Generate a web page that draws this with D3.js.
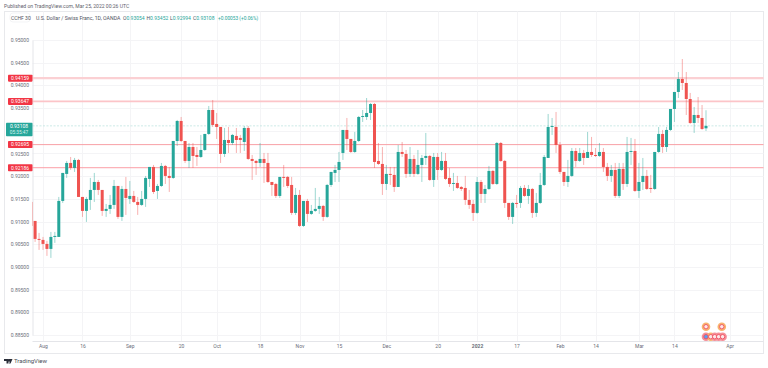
<!DOCTYPE html>
<html>
<head>
<meta charset="utf-8">
<script src="https://cdnjs.cloudflare.com/ajax/libs/d3/7.8.5/d3.min.js"></script>
<style>
  html, body { margin: 0; padding: 0; background: #fff; }
  svg { display: block; }
  text { font-family: Roboto, "Liberation Sans", sans-serif; }
</style>
</head>
<body>
<div id="chart"></div>
<script>
// bar number 0 is Aug 2 2021, the first bars sit before that and run off the axis
const firstBar = -3;

const opens = [
  .91432,.91013,.90617,.90595,.90507,.90397,.90661,.90661,.91454,.92049,
  .92291,.92181,.92357,.91542,.91234,.91476,.91696,.91872,.91696,.91234,
  .91278,.91366,.91784,.91102,.91718,.91498,.91564,.91432,.91366,.91498,
  .91939,.92203,.91674,.91784,.92225,.92005,.91961,.92775,.93216,.92775,
  .92335,.92643,.92467,.92423,.92577,.92930,.93458,.93150,.93084,.92489,
  .92797,.92731,.92886,.92842,.92753,.93062,.92379,.92335,.92291,.92379,
  .92291,.91872,.91828,.91564,.91983,.91983,.91806,.91190,.91586,.90903,
  .91454,.91168,.91234,.91278,.91344,.91102,.91806,.92071,.92137,.92511,
  .93018,.92820,.92533,.92775,.93304,.93304,.93392,.93590,.92335,.92269,
  .91828,.92049,.92027,.91762,.92533,.92489,.92049,.92379,.92049,.92247,
  .92401,.92445,.91916,.92423,.92137,.92335,.91961,.91828,.91850,.91762,
  .91740,.91476,.91388,.91190,.91872,.91608,.91718,.92115,.91828,.92731,
  .92335,.91410,.91102,.91410,.91410,.91740,.91564,.91718,.91190,.91410,
  .91806,.92401,.93084,.93084,.92687,.92093,.91872,.92005,.92555,.92335,
  .92511,.92401,.92533,.92467,.92445,.92533,.92203,.92005,.92137,.91564,
  .92159,.91828,.92533,.92555,.91674,.91872,.92005,.91740,.91718,.92533,
  .92930,.92643,.93018,.93480,.93855,.94141,.94053,.93700,.93172,.93348,
  .93282,.93054
];
const highs = [
  .91432,.91013,.90749,.90661,.90573,.90771,.90771,.91542,.92071,.92335,
  .92423,.92401,.92379,.91542,.91542,.91961,.92071,.91916,.91696,.91388,
  .91586,.91916,.91784,.91784,.91983,.91894,.91674,.91542,.91674,.92005,
  .92203,.92247,.91828,.92291,.92247,.92203,.92775,.93238,.93304,.92775,
  .92731,.92731,.92643,.92908,.92930,.93546,.93678,.93392,.93084,.93062,
  .93084,.92930,.93062,.92908,.93106,.93106,.92467,.92357,.92731,.92511,
  .92511,.91872,.91850,.91983,.92247,.92005,.91983,.91740,.91696,.91454,
  .91498,.91366,.91740,.91542,.91366,.91828,.92093,.92247,.92533,.93018,
  .93282,.92820,.92974,.93326,.93458,.93722,.93612,.93612,.92731,.92643,
  .92247,.92203,.92203,.92687,.92753,.92577,.92643,.92467,.92577,.92467,
  .92952,.92467,.92511,.92511,.92533,.92511,.92181,.92071,.92005,.91784,
  .92005,.91696,.91476,.91983,.91916,.91806,.92225,.92137,.92753,.92753,
  .92357,.91410,.91432,.91586,.91784,.91806,.91806,.91740,.91630,.92071,
  .92467,.93370,.93282,.93414,.92753,.92093,.92357,.92621,.92621,.92621,
  .92577,.92974,.92864,.92621,.92731,.92621,.92291,.92247,.92291,.92291,
  .92291,.92864,.92842,.92820,.92291,.92401,.92137,.92027,.92533,.93084,
  .93018,.93084,.93480,.93855,.94295,.94581,.94295,.93833,.93524,.93744,
  .93568,.93452
];
const lows = [
  .90903,.90551,.90375,.90375,.90243,.90199,.90529,.90661,.91410,.91961,
  .92137,.92093,.91542,.91102,.90991,.91256,.91432,.91586,.91124,.91102,
  .91168,.91278,.91058,.91013,.91146,.91388,.91410,.91146,.91344,.91322,
  .91762,.91608,.91498,.91762,.91828,.91652,.91939,.92665,.92753,.92291,
  .92181,.92181,.92225,.92401,.92555,.92908,.93084,.92820,.92291,.92423,
  .92511,.92687,.92511,.92511,.92555,.92357,.91916,.92027,.92203,.91850,
  .91850,.91564,.91520,.91520,.91762,.91740,.91146,.91146,.90881,.90881,
  .90991,.91146,.91212,.91168,.91013,.91080,.91762,.91872,.91872,.92357,
  .92577,.92511,.92511,.92753,.93194,.93238,.93238,.92181,.92247,.91586,
  .91696,.91806,.91652,.91762,.92423,.91961,.91983,.91983,.92027,.91872,
  .92247,.91894,.91762,.91916,.92115,.91916,.91762,.91674,.91718,.91674,
  .91366,.91278,.91013,.91168,.91410,.91410,.91696,.91806,.91806,.92313,
  .91300,.91035,.90947,.91300,.91300,.91542,.91388,.91080,.91102,.91388,
  .91784,.92401,.92908,.92511,.92049,.91784,.91762,.91983,.92203,.92313,
  .92247,.92401,.92423,.92423,.92423,.92093,.91894,.91872,.91520,.91520,
  .91696,.91762,.92247,.91652,.91520,.91696,.91696,.91630,.91696,.92511,
  .92511,.92533,.92996,.93194,.93722,.93899,.93348,.93150,.92952,.93172,
  .93018,.92994
];
const closes = [
  .90903,.90617,.90595,.90507,.90397,.90661,.90683,.91454,.92071,.92291,
  .92181,.92357,.91542,.91234,.91498,.91696,.91872,.91696,.91234,.91278,
  .91366,.91784,.91102,.91718,.91520,.91564,.91432,.91366,.91498,.91961,
  .92203,.91652,.91784,.92225,.92005,.91961,.92775,.93216,.92775,.92335,
  .92643,.92445,.92423,.92577,.92930,.93458,.93128,.93084,.92489,.92797,
  .92731,.92908,.92797,.92797,.93062,.92379,.92335,.92291,.92379,.92291,
  .91872,.91806,.91564,.91983,.91961,.91784,.91190,.91586,.90903,.91454,
  .91168,.91234,.91278,.91344,.91102,.91806,.92093,.92137,.92313,.93018,
  .92820,.92533,.92775,.93304,.93326,.93392,.93590,.92313,.92269,.91828,
  .92049,.92027,.91762,.92533,.92489,.92049,.92379,.92049,.92247,.92401,
  .92445,.91916,.92423,.92137,.92335,.91939,.91828,.91850,.91740,.91718,
  .91476,.91366,.91190,.91872,.91608,.91718,.92115,.91828,.92731,.92335,
  .91410,.91102,.91410,.91388,.91740,.91564,.91718,.91190,.91410,.91806,
  .92423,.93084,.93106,.92687,.92093,.91872,.92005,.92555,.92335,.92511,
  .92401,.92533,.92467,.92445,.92533,.92203,.92005,.92137,.91564,.92159,
  .91828,.92533,.92555,.91674,.91872,.92005,.91718,.91718,.92533,.92930,
  .92643,.93018,.93480,.93855,.94141,.94053,.93700,.93172,.93348,.93282,
  .93040,.93108
];

const priceTicks = [0.95, 0.945, 0.94, 0.935, 0.925, 0.92, 0.915, 0.91, 0.905, 0.9, 0.895, 0.89, 0.885];
const priceGrid = [0.95, 0.945, 0.94, 0.935, 0.93, 0.925, 0.92, 0.915, 0.91, 0.905, 0.9, 0.895, 0.89, 0.885];
const dateBars = [0, 10, 22, 35, 44, 55, 65, 75, 87, 100, 110, 120, 131, 140, 151, 160, 174];
const dateLabels = ["Aug", "16", "Sep", "20", "Oct", "18", "Nov", "15", "Dec", "20", "2022", "17", "Feb", "14", "Mar", "14", "Apr"];

const levels = [0.94159, 0.93647, 0.92695, 0.92186];
const levelWidths = [2.4, 1.8, 1, 1];
const levelColors = ["#fbd0d3", "#fcc4c8", "#f8a0a6", "#fb9fa6"];
const lastPrice = 0.93108;
const countdown = "05:35:47";

// little event badges under the candles
const eventsTop = [168, 172];
const eventsRow = [168, 169.2, 170.2, 171.2, 172.2];
const eventColors = ["#f58f99", "#f9b36e", "#f58f99", "#f58f99", "#f58f99"];

const width = 768, height = 368;
const frame = { left: 4.5, right: 763.5, top: 11.5, bottom: 353.5 };
const plot = { left: 32.5, right: 763.5, top: 11.5, bottom: 341.5 };
const green = "#26a69a", red = "#ef5350", textColor = "#6a6d78";

const x = d3.scaleLinear().domain([0, 168]).range([43, 706]);
const y = d3.scaleLinear().domain([0.95, 0.885]).range([40, 335]);

const svg = d3.select("#chart").append("svg")
  .attr("width", width)
  .attr("height", height);

svg.append("text").attr("x", 4).attr("y", 8)
  .attr("font-size", 5.05).attr("fill", "#5d606b")
  .text("Published on TradingView.com, Mar 25, 2022 00:26 UTC");

svg.append("rect")
  .attr("x", frame.left).attr("y", frame.top)
  .attr("width", frame.right - frame.left).attr("height", frame.bottom - frame.top)
  .attr("fill", "#fff").attr("stroke", "#e8e9ec");

svg.append("defs").append("clipPath").attr("id", "plotClip").append("rect")
  .attr("x", plot.left).attr("y", plot.top)
  .attr("width", plot.right - plot.left).attr("height", plot.bottom - plot.top);

// grid
svg.append("g").selectAll("line").data(priceGrid).join("line")
  .attr("x1", plot.left).attr("x2", plot.right)
  .attr("y1", d => Math.round(y(d)) + 0.5).attr("y2", d => Math.round(y(d)) + 0.5)
  .attr("stroke", "#f4f4f6");
svg.append("g").selectAll("line").data(dateBars).join("line")
  .attr("x1", d => Math.round(x(d)) + 0.5).attr("x2", d => Math.round(x(d)) + 0.5)
  .attr("y1", plot.top).attr("y2", plot.bottom)
  .attr("stroke", "#f4f4f6");

// axes
const yAxis = svg.append("g")
  .attr("transform", `translate(${plot.left},0)`)
  .call(d3.axisLeft(y).tickValues(priceTicks).tickSize(0).tickPadding(3.5).tickFormat(d3.format(".5f")));
yAxis.select(".domain").attr("stroke", "#e4e5e9");
yAxis.selectAll("text").attr("font-size", 5).attr("fill", textColor).attr("font-family", null);

const xAxis = svg.append("g")
  .attr("transform", `translate(0,${plot.bottom})`)
  .call(d3.axisBottom(x).tickValues(dateBars).tickSize(0).tickPadding(3).tickFormat((d, i) => dateLabels[i]));
xAxis.select(".domain").attr("d", `M${plot.left},0H${plot.right}`).attr("stroke", "#e4e5e9");
xAxis.selectAll("text").attr("font-size", 5).attr("fill", textColor).attr("font-family", null)
  .attr("font-weight", (d, i) => dateLabels[i] === "2022" ? "bold" : null);

// level lines
svg.append("g").selectAll("line").data(levels).join("line")
  .attr("x1", plot.left).attr("x2", plot.right)
  .attr("y1", d => y(d)).attr("y2", d => y(d))
  .attr("stroke", (d, i) => levelColors[i])
  .attr("stroke-width", (d, i) => levelWidths[i]);

// last price line
svg.append("line")
  .attr("x1", plot.left).attr("x2", plot.right)
  .attr("y1", y(lastPrice)).attr("y2", y(lastPrice))
  .attr("stroke", "#bfe5e1").attr("stroke-dasharray", "2 1.5").attr("stroke-width", 0.8);

// candles
const bars = opens.map((o, i) => ({ bar: firstBar + i, o: o, h: highs[i], l: lows[i], c: closes[i] }));
const candles = svg.append("g").attr("clip-path", "url(#plotClip)");

candles.selectAll("line").data(bars).join("line")
  .attr("x1", d => x(d.bar)).attr("x2", d => x(d.bar))
  .attr("y1", d => y(d.h)).attr("y2", d => y(d.l))
  .attr("stroke", d => d.c >= d.o ? green : red)
  .attr("stroke-opacity", 0.5)
  .attr("stroke-width", 0.9);

candles.selectAll("rect").data(bars).join("rect")
  .attr("x", d => x(d.bar) - 1.5)
  .attr("width", 3)
  .attr("y", d => y(Math.max(d.o, d.c)))
  .attr("height", d => Math.max(1, y(Math.min(d.o, d.c)) - y(Math.max(d.o, d.c))))
  .attr("fill", d => d.c >= d.o ? green : red);

// price tags on the axis
const tags = svg.append("g").selectAll("g").data(levels).join("g")
  .attr("transform", d => `translate(0,${y(d)})`);
tags.append("rect")
  .attr("x", 8).attr("y", -3.5).attr("width", 24.5).attr("height", 7).attr("rx", 0.8)
  .attr("fill", "#f23645");
tags.append("text")
  .attr("x", 20).attr("y", 1.8).attr("text-anchor", "middle")
  .attr("font-size", 5).attr("fill", "#fff")
  .text(d => d3.format(".5f")(d));

const lastTag = svg.append("g").attr("transform", `translate(0,${y(lastPrice)})`);
lastTag.append("rect")
  .attr("x", 6).attr("y", -3).attr("width", 26.5).attr("height", 13.5).attr("rx", 0.8)
  .attr("fill", green);
lastTag.append("text").attr("x", 19).attr("y", 1.8).attr("text-anchor", "middle")
  .attr("font-size", 5).attr("fill", "#fff").text(d3.format(".5f")(lastPrice));
lastTag.append("text").attr("x", 19).attr("y", 7.8).attr("text-anchor", "middle")
  .attr("font-size", 4.8).attr("fill", "#d8f1ee").text(countdown);

// header line
svg.append("rect").attr("x", 10).attr("y", 13).attr("width", 20).attr("height", 9).attr("rx", 3)
  .attr("fill", "none").attr("stroke", "#eeeff2").attr("stroke-width", 0.7);
svg.append("text").attr("x", 11).attr("y", 19.5)
  .attr("font-size", 5).attr("fill", "#50535e").text("CCHF 30");
svg.append("text").attr("x", 36).attr("y", 19.5)
  .attr("font-size", 5.2).attr("fill", "#50535e").text("U.S. Dollar / Swiss Franc, 1D, OANDA");

const ohlcText = ["0.93054", "0.93452", "0.92994", "0.93108"];
const ohlcNames = ["O", "H", "L", "C"];
const ohlcX = [123, 146.5, 170, 193];
ohlcText.forEach((t, i) => {
  const label = svg.append("text").attr("x", ohlcX[i]).attr("y", 19.5).attr("font-size", 5);
  label.append("tspan").attr("fill", "#50535e").text(ohlcNames[i]);
  label.append("tspan").attr("fill", green).text(t);
});
svg.append("text").attr("x", 218).attr("y", 19.5)
  .attr("font-size", 4.8).attr("fill", green).text("+0.00053 (+0.06%)");

// event badges
const badgeY = [326.7, 336.7];
[eventsTop, eventsRow].forEach((row, r) => {
  const g = svg.append("g");
  g.selectAll("circle.outer").data(row).join("circle")
    .attr("class", "outer")
    .attr("cx", d => x(d)).attr("cy", badgeY[r]).attr("r", 4.3)
    .attr("fill", (d, i) => r === 0 && i === 0 ? "#f9b36e" : eventColors[i]);
  g.selectAll("circle.inner").data(row).join("circle")
    .attr("class", "inner")
    .attr("cx", d => x(d)).attr("cy", badgeY[r]).attr("r", 2.2)
    .attr("fill", (d, i) => r === 1 && i === 0 ? "#5b9cf0" : "#fde6e8")
    .attr("stroke", "#ef4f5d").attr("stroke-width", 0.9);
});

// logo
svg.append("path")
  .attr("d", "M4,359H8.5V363.5H6.5V361H4ZM9,359H12.5L10.5,363.5H9L10,361.5A1.2,1.2 0 0 1 9,359Z")
  .attr("fill", "#2a2e39");
svg.append("text").attr("x", 14).attr("y", 363.2)
  .attr("font-size", 6).attr("fill", "#4a4e59").text("TradingView");
</script>
</body>
</html>
